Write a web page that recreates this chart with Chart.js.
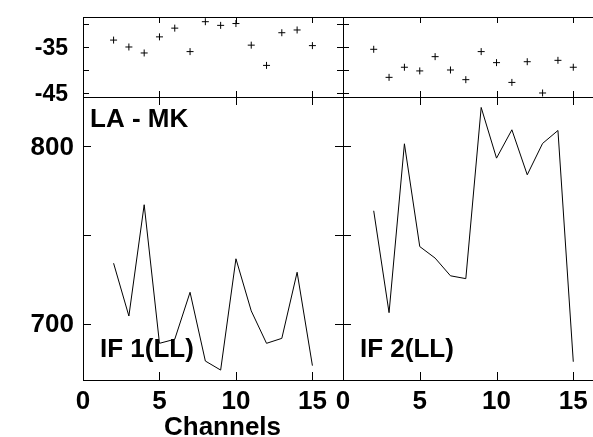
<!DOCTYPE html>
<html><head><meta charset="utf-8">
<script src="https://cdn.jsdelivr.net/npm/chart.js@4"></script>
<style>
html,body{margin:0;padding:0;overflow:hidden;background:#fff;width:593px;height:437px}
canvas{position:absolute;left:0;top:0}
</style></head><body>
<canvas id="tl" width="610" height="437"></canvas>
<canvas id="bl" width="610" height="437"></canvas>
<canvas id="tr" width="610" height="437"></canvas>
<canvas id="br" width="610" height="437"></canvas>
<script>
// ---- data ----
const channels = [2, 3, 4, 5, 6, 7, 8, 9, 10, 11, 12, 13, 14, 15];
const phaseIF1 = [-33.5, -35.0, -36.3, -32.8, -30.9, -36.0, -29.5, -30.3, -29.9, -34.6, -39.0, -31.9, -31.3, -34.7];
const phaseIF2 = [-35.5, -41.6, -39.4, -40.2, -37.1, -40.0, -42.1, -36.0, -38.4, -42.7, -38.2, -45.0, -37.9, -39.4];
const ampIF1 = [734.1, 704.3, 767.1, 688.9, 691.2, 717.7, 678.9, 673.8, 736.6, 707.2, 688.9, 691.7, 729.0, 676.3];
const ampIF2 = [763.7, 706.2, 801.5, 743.5, 737.0, 727.0, 725.4, 822.0, 793.4, 809.4, 784.0, 801.7, 809.0, 678.5];

const xTickValues = [0, 5, 10, 15];
const xTickLabels = ['0', '5', '10', '15'];
const phaseTickValues = [-30, -35, -40, -45];
const phaseTickLabels = ['', '-35', '', '-45'];
const ampTickValues = [700, 750, 800];
const ampTickLabels = ['700', '', '800'];

const xRange = [0, 17];
const phaseRange = [-45.87, -28.48];
const ampRange = [668.2, 827.9];

const FONT = '"Liberation Sans", Arial, Helvetica, sans-serif';

const framePlugin = {
  id: 'frame',
  afterDatasetsDraw(chart, args, opts) {
    const {ctx, chartArea: a, scales} = chart;
    ctx.save();
    ctx.strokeStyle = '#000';
    ctx.lineWidth = 1;
    ctx.strokeRect(a.left + 0.5, a.top + 0.5, a.right - a.left, a.bottom - a.top);
    const L = opts.tickLen;
    ctx.beginPath();
    for (const v of opts.yTicks) {
      const y = Math.round(scales.y.getPixelForValue(v)) + 0.5;
      ctx.moveTo(a.left, y); ctx.lineTo(a.left + L, y);
      ctx.moveTo(a.right, y); ctx.lineTo(a.right - L, y);
    }
    for (const v of xTickValues) {
      if (v === xRange[0]) continue;
      const x = Math.round(scales.x.getPixelForValue(v)) + 0.5;
      ctx.moveTo(x, a.top); ctx.lineTo(x, a.top + L);
      ctx.moveTo(x, a.bottom); ctx.lineTo(x, a.bottom - L);
    }
    ctx.stroke();
    ctx.fillStyle = '#000';
    ctx.font = 'bold 26px ' + FONT;
    ctx.textBaseline = 'alphabetic';
    ctx.textAlign = 'left';
    for (const t of opts.texts) ctx.fillText(t.text, t.x, t.y);
    ctx.restore();
  }
};

function makeChart(p) {
  const isPhase = p.kind === 'phase';
  const ds = {
    data: channels.map((c, i) => ({x: c, y: p.values[i]})),
    borderColor: '#000',
    borderWidth: 1,
    tension: 0,
    showLine: !isPhase,
    pointRadius: isPhase ? 3.5 : 0,
    pointStyle: 'cross',
    pointBorderColor: '#000',
    pointBorderWidth: 1
  };
  const yTicks = isPhase ? phaseTickValues : ampTickValues;
  const yLabels = isPhase ? phaseTickLabels : ampTickLabels;
  const xScale = {
    type: 'linear', min: xRange[0], max: xRange[1], bounds: 'data',
    display: p.showX,
    grid: {display: false, drawTicks: false}, border: {display: false},
    afterBuildTicks: s => { s.ticks = xTickValues.map(v => ({value: v})); },
    ticks: {callback: (v, i) => xTickLabels[i], color: '#000', padding: 6,
            maxRotation: 0, minRotation: 0, autoSkip: false,
            font: {family: FONT, size: 26, weight: 'bold'}}
  };
  if (p.showX) xScale.afterFit = s => { s.height = 57; s.paddingLeft = 0; s.paddingRight = 0; };
  const yScale = {
    type: 'linear', min: isPhase ? phaseRange[0] : ampRange[0], max: isPhase ? phaseRange[1] : ampRange[1],
    bounds: 'data', display: p.showY,
    grid: {display: false, drawTicks: false}, border: {display: false},
    afterBuildTicks: s => { s.ticks = yTicks.map(v => ({value: v})); },
    ticks: {callback: (v, i) => yLabels[i], color: '#000', padding: isPhase ? 15 : 9,
            labelOffset: isPhase ? 2 : 1, autoSkip: false,
            font: {family: FONT, size: isPhase ? 23 : 26, weight: 'bold'}}
  };
  if (p.showY) yScale.afterFit = s => { s.width = 83; s.paddingTop = 0; s.paddingBottom = 0; };
  return new Chart(document.getElementById(p.id), {
    type: 'line',
    data: {datasets: [ds]},
    options: {
      responsive: false, animation: false, events: [],
      layout: {padding: p.pad},
      plugins: {legend: {display: false}, tooltip: {enabled: false},
                frame: {tickLen: p.tickLen, yTicks: yTicks, texts: p.texts}},
      scales: {x: xScale, y: yScale}
    },
    plugins: [framePlugin]
  });
}

makeChart({id: 'tl', kind: 'phase', values: phaseIF1, showX: false, showY: true,
  pad: {left: 0, top: 17, right: 267, bottom: 340}, tickLen: 6, texts: []});
makeChart({id: 'tr', kind: 'phase', values: phaseIF2, showX: false, showY: false,
  pad: {left: 343, top: 17, right: 6, bottom: 340}, tickLen: 6, texts: []});
makeChart({id: 'bl', kind: 'amp', values: ampIF1, showX: true, showY: true,
  pad: {left: 0, top: 97, right: 267, bottom: 0}, tickLen: 8,
  texts: [{text: 'LA - MK', x: 90, y: 127}, {text: 'IF 1(LL)', x: 100, y: 357}, {text: 'Channels', x: 164, y: 435}]});
makeChart({id: 'br', kind: 'amp', values: ampIF2, showX: true, showY: false,
  pad: {left: 343, top: 97, right: 6, bottom: 0}, tickLen: 8,
  texts: [{text: 'IF 2(LL)', x: 360, y: 357}]});
</script>
</body></html>
